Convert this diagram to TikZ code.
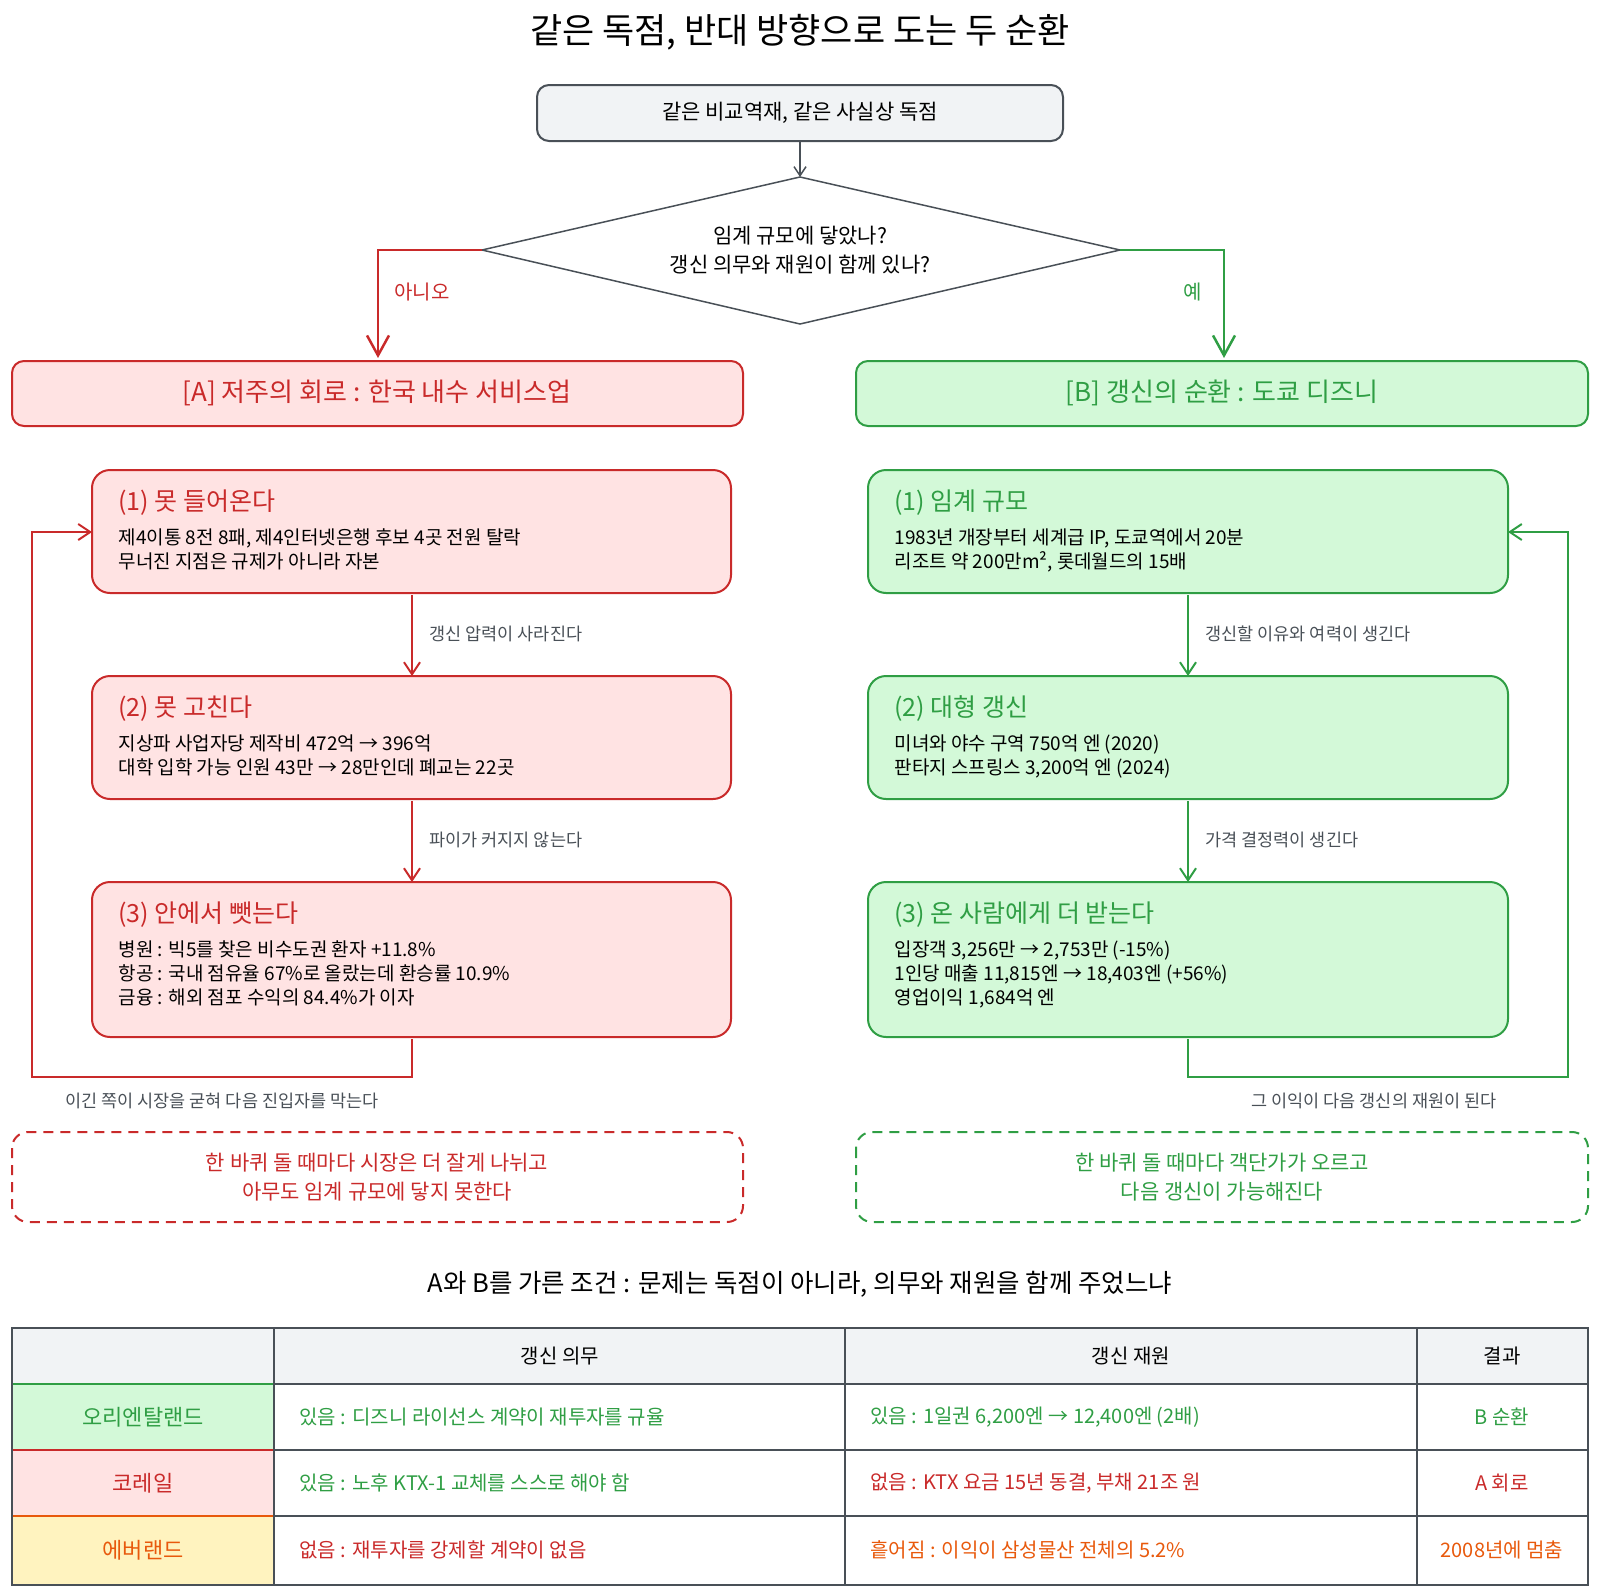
\documentclass[tikz,border=0pt]{standalone}
\usepackage{fontspec}
\setmainfont{Noto Sans CJK KR}
\usetikzlibrary{arrows.meta,shapes.geometric}
\definecolor{rd}{HTML}{C92A2A}
\definecolor{gn}{HTML}{2F9E44}
\definecolor{og}{HTML}{E8590C}
\definecolor{rfill}{HTML}{FFE3E3}
\definecolor{gfill}{HTML}{D3F9D8}
\definecolor{yfill}{HTML}{FFF3BF}
\definecolor{gray0}{HTML}{F1F3F5}
\definecolor{dk}{HTML}{495057}
\begin{document}
\begin{tikzpicture}[x=1pt,y=-1pt,
  fs/.style={font=\fontsize{#1}{#1}\selectfont},
  box/.style={rounded corners=12pt,line width=2pt},
  tip/.style={-{Straight Barb[length=12pt,width=16pt,line width=2pt]}},
  big/.style={-{Straight Barb[length=20pt,width=22pt,line width=2.5pt]}},
  lbl/.style={fs=17.5,text=dk,anchor=west},
  tt/.style={fs=25,anchor=west},
  bd/.style={font=\fontsize{19}{24}\selectfont,anchor=north west,align=left,text=black},
  cell/.style={fs=20}]
\useasboundingbox (0,0) rectangle (1600,1595);
\node[fs=35] (title) at (800,32) {같은 독점, 반대 방향으로 도는 두 순환};
\draw[box,draw=dk,fill=gray0] (537,85) rectangle (1063,141);
\node[fs=21] (top) at (800,113) {같은 비교역재, 같은 사실상 독점};
\coordinate (topb) at (800,141);
\draw[dk,line width=1.5pt,fill=white] (800,177) -- (1120,250) -- (800,324) -- (482,250) -- cycle;
\coordinate (dt) at (800,177); \coordinate (dl) at (482,250); \coordinate (dr) at (1120,250);
\node[font=\fontsize{21}{29}\selectfont,align=center] (q) at (800,250) {임계 규모에 닿았나?\\갱신 의무와 재원이 함께 있나?};
\draw[dk,line width=1.5pt,-{Straight Barb[length=9pt,width=12pt]}] (topb) -- (dt);
\coordinate (an) at (378,358); \coordinate (bn) at (1224,358);
\draw[rd,line width=2.5pt,big] (dl) -- (378,250) -- (an);
\draw[gn,line width=2.5pt,big] (dr) -- (1224,250) -- (bn);
\node[fs=20,text=rd] (no) at (422,292) {아니오};
\node[fs=20,text=gn] (yes) at (1193,292) {예};
% headers
\draw[box,draw=rd,fill=rfill] (12,361) rectangle (743,426);
\node[fs=26,text=rd] (ha) at (377,393) {[A] 저주의 회로 : 한국 내수 서비스업};
\draw[box,draw=gn,fill=gfill] (856,361) rectangle (1588,426);
\node[fs=26,text=gn] (hb) at (1222,393) {[B] 갱신의 순환 : 도쿄 디즈니};
% boxes
\foreach \y/\h in {470/593,676/799,882/1037}{
 \draw[box,draw=rd,fill=rfill,rounded corners=18pt] (92,\y) rectangle (731,\h);
 \draw[box,draw=gn,fill=gfill,rounded corners=18pt] (868,\y) rectangle (1508,\h);}
\node[tt,text=rd] (a1) at (115,503) {(1) 못 들어온다};
\node[bd] (a1b) at (115,525) {제4이통 8전 8패, 제4인터넷은행 후보 4곳 전원 탈락\\무너진 지점은 규제가 아니라 자본};
\node[tt,text=rd] (a2) at (115,709) {(2) 못 고친다};
\node[bd] (a2b) at (115,731) {지상파 사업자당 제작비 472억 → 396억\\대학 입학 가능 인원 43만 → 28만인데 폐교는 22곳};
\node[tt,text=rd] (a3) at (115,915) {(3) 안에서 뺏는다};
\node[bd] (a3b) at (115,937) {병원 : 빅5를 찾은 비수도권 환자 +11.8\%\\항공 : 국내 점유율 67\%로 올랐는데 환승률 10.9\%\\금융 : 해외 점포 수익의 84.4\%가 이자};
\node[tt,text=gn] (b1) at (891,503) {(1) 임계 규모};
\node[bd] (b1b) at (891,525) {1983년 개장부터 세계급 IP, 도쿄역에서 20분\\리조트 약 200만m², 롯데월드의 15배};
\node[tt,text=gn] (b2) at (891,709) {(2) 대형 갱신};
\node[bd] (b2b) at (891,731) {미녀와 야수 구역 750억 엔 (2020)\\판타지 스프링스 3,200억 엔 (2024)};
\node[tt,text=gn] (b3) at (891,915) {(3) 온 사람에게 더 받는다};
\node[bd] (b3b) at (891,937) {입장객 3,256만 → 2,753만 (-15\%)\\1인당 매출 11,815엔 → 18,403엔 (+56\%)\\영업이익 1,684억 엔};
% vertical arrows
\draw[rd,line width=2pt,tip] (412,595) -- (412,676);
\draw[rd,line width=2pt,tip] (412,801) -- (412,882);
\draw[gn,line width=2pt,tip] (1188,595) -- (1188,676);
\draw[gn,line width=2pt,tip] (1188,801) -- (1188,882);
\node[lbl] (l1) at (426,634) {갱신 압력이 사라진다};
\node[lbl] (l2) at (426,840) {파이가 커지지 않는다};
\node[lbl] (l3) at (1202,634) {갱신할 이유와 여력이 생긴다};
\node[lbl] (l4) at (1202,840) {가격 결정력이 생긴다};
% loops
\draw[rd,line width=2pt,tip] (412,1039) -- (412,1077) -- (32,1077) -- (32,532) -- (92,532);
\draw[gn,line width=2pt,tip] (1188,1039) -- (1188,1077) -- (1568,1077) -- (1568,532) -- (1508,532);
\node[fs=17.5,text=dk] (la) at (222,1101) {이긴 쪽이 시장을 굳혀 다음 진입자를 막는다};
\node[fs=17.5,text=dk] (lb) at (1374,1101) {그 이익이 다음 갱신의 재원이 된다};
% dashed
\draw[box,draw=rd,dashed,dash pattern=on 10pt off 7pt,rounded corners=16pt] (12,1132) rectangle (743,1222);
\node[font=\fontsize{21}{29}\selectfont,text=rd,align=center] (da) at (377,1177) {한 바퀴 돌 때마다 시장은 더 잘게 나뉘고\\아무도 임계 규모에 닿지 못한다};
\draw[box,draw=gn,dashed,dash pattern=on 10pt off 7pt,rounded corners=16pt] (856,1132) rectangle (1588,1222);
\node[font=\fontsize{21}{29}\selectfont,text=gn,align=center] (db) at (1222,1177) {한 바퀴 돌 때마다 객단가가 오르고\\다음 갱신이 가능해진다};
\node[fs=25.5] (sub) at (800,1284) {A와 B를 가른 조건 : 문제는 독점이 아니라, 의무와 재원을 함께 주었느냐};
% table
\fill[gray0] (12,1328) rectangle (1588,1384);
\fill[gfill] (12,1384) rectangle (274,1450);
\fill[rfill] (12,1450) rectangle (274,1516);
\fill[yfill] (12,1516) rectangle (274,1585);
\draw[gn,line width=2pt] (12,1384) rectangle (274,1450);
\draw[rd,line width=2pt] (12,1450) rectangle (274,1516);
\draw[og,line width=2pt] (12,1516) rectangle (274,1585);
\draw[dk,line width=2pt] (12,1328) rectangle (1588,1585);
\foreach \x in {274,845,1417} \draw[dk,line width=2pt] (\x,1328) -- (\x,1585);
\foreach \y in {1384,1450,1516} \draw[dk,line width=2pt] (274,\y) -- (1588,\y);
\node[cell] (h2) at (560,1356) {갱신 의무};
\node[cell] (h3) at (1131,1356) {갱신 재원};
\node[cell] (h4) at (1502,1356) {결과};
\node[fs=22,text=gn] (r1) at (143,1417) {오리엔탈랜드};
\node[fs=22,text=rd] (r2) at (143,1483) {코레일};
\node[fs=22,text=og] (r3) at (143,1550) {에버랜드};
\node[cell,text=gn,anchor=west] (c11) at (296,1417) {있음 : 디즈니 라이선스 계약이 재투자를 규율};
\node[cell,text=gn,anchor=west] (c12) at (867,1417) {있음 : 1일권 6,200엔 → 12,400엔 (2배)};
\node[cell,text=gn] (c13) at (1502,1417) {B 순환};
\node[cell,text=gn,anchor=west] (c21) at (296,1483) {있음 : 노후 KTX-1 교체를 스스로 해야 함};
\node[cell,text=rd,anchor=west] (c22) at (867,1483) {없음 : KTX 요금 15년 동결, 부채 21조 원};
\node[cell,text=rd] (c23) at (1502,1483) {A 회로};
\node[cell,text=rd,anchor=west] (c31) at (296,1550) {없음 : 재투자를 강제할 계약이 없음};
\node[cell,text=og,anchor=west] (c32) at (867,1550) {흩어짐 : 이익이 삼성물산 전체의 5.2\%};
\node[cell,text=og] (c33) at (1502,1550) {2008년에 멈춤};
\end{tikzpicture}
\end{document}
